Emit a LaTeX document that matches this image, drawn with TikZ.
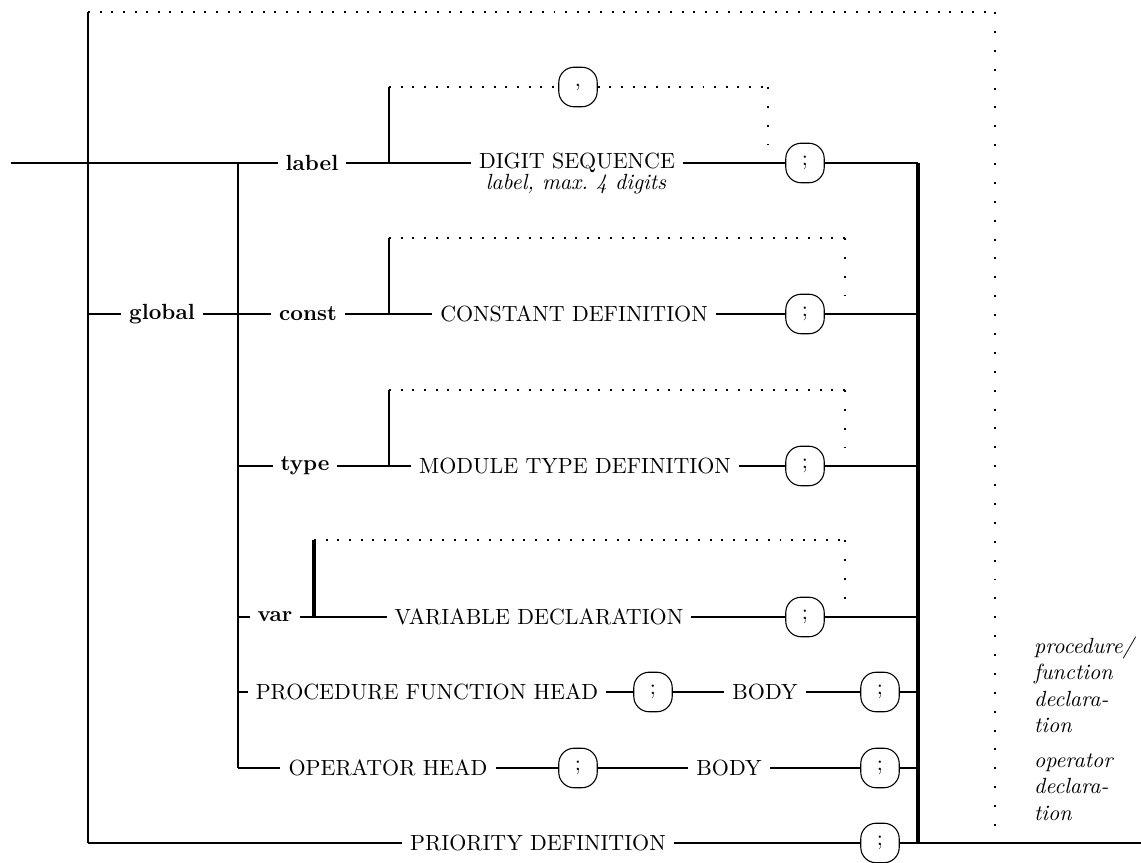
\documentclass[tikz,border=0pt]{standalone}
\usepackage{amsmath,amssymb}
\usepackage{tikz}

\begin{document}
\begin{tikzpicture}[x=0.016cm,y=-0.016cm,
  rail/.style={line width=0.9pt},
  railthin/.style={line width=0.6pt},
  bus/.style={line width=1.4pt},
  hdots/.style={line width=0.9pt,dash pattern=on 0.9pt off 4.4pt},
  vdots/.style={line width=0.9pt,dash pattern=on 0.9pt off 7.7pt},
  term/.style={draw,line width=0.5pt,rounded corners=7pt,minimum width=17.5pt,minimum height=18pt,inner sep=0pt},
  nt/.style={inner sep=3.5pt},
  kw/.style={font=\bfseries,inner sep=3.5pt},
  note/.style={font=\itshape,align=left,anchor=west,inner sep=3pt}]
  \useasboundingbox(0,0)rectangle(1141,863);
  \def\ya{163}\def\yb{314}\def\yc{466}\def\yd{617}\def\ye{692}\def\yf{768}\def\yg{843}
  \coordinate(in)at(11,\ya);
  \coordinate(top)at(88,12);
  \coordinate(topR)at(995,12);
  \coordinate(topE)at(995,826);
  \coordinate(jB)at(238,\ya);
  \coordinate(gA)at(88,\yb);
  \coordinate(tA)at(238,\yc);
  \coordinate(vA)at(238,\yd);
  \coordinate(pA)at(238,\ye);
  \coordinate(oA)at(238,\yf);
  \coordinate(pL)at(88,\yg);
  \coordinate(out)at(1141,\yg);
  \foreach \n/\yy in {1/\ya,2/\yb,3/\yc,4/\yd,5/\ye,6/\yf,7/\yg}
    \coordinate(r\n)at(918,\yy);
  \node[kw](label)at(312,\ya){label};
  \node[nt](digseq)at(577,\ya){DIGIT SEQUENCE};
  \node[font=\itshape,inner sep=0pt](dignote)at(576,184){label, max.\ 4 digits};
  \node[term](comma)at(578,87){,};
  \node[term](semiA)at(805,\ya){;};
  \node[kw](global)at(162,\yb){global};
  \node[kw](const)at(308,\yb){const};
  \node[nt](constdef)at(574,\yb){CONSTANT DEFINITION};
  \node[term](semiB)at(805,\yb){;};
  \node[kw](type)at(305,\yc){type};
  \node[nt](typedef)at(575,\yc){MODULE TYPE DEFINITION};
  \node[term](semiC)at(805,\yc){;};
  \node[kw](var)at(275,\yd){var};
  \node[nt](vardecl)at(539,\yd){VARIABLE DECLARATION};
  \node[term](semiD)at(805,\yd){;};
  \node[nt](prochead)at(427,\ye){PROCEDURE FUNCTION HEAD};
  \node[term](semiE)at(653,\ye){;};
  \node[nt](procbody)at(765,\ye){BODY};
  \node[term](semiF)at(880,\ye){;};
  \node[nt](ophead)at(388,\yf){OPERATOR HEAD};
  \node[term](semiG)at(578,\yf){;};
  \node[nt](opbody)at(729,\yf){BODY};
  \node[term](semiH)at(880,\yf){;};
  \node[nt](prio)at(538,\yg){PRIORITY DEFINITION};
  \node[term](semiI)at(880,\yg){;};
  \node[note](procnote)at(1027,685){procedure/\\function\\declara-\\tion};
  \node[note](opnote)at(1027,787){operator\\declara-\\tion};
  \draw[rail](in)--(label)--(digseq)--(semiA)--(r1);
  \draw[rail](gA)--(global)--(const)--(constdef)--(semiB)--(r2);
  \draw[railthin](tA)--(type)--(typedef)--(semiC)--(r3);
  \draw[railthin](vA)--(var)--(vardecl)--(semiD)--(r4);
  \draw[railthin](pA)--(prochead)--(semiE)--(procbody)--(semiF)--(r5);
  \draw[rail](oA)--(ophead)--(semiG)--(opbody)--(semiH)--(r6);
  \draw[rail](pL)--(prio)--(semiI)--(out);
  \draw[rail](top)--(pL);
  \draw[rail](jB)--(oA);
  \draw[bus](r1)--(r7);
  \draw[hdots](top)--(topR);
  \draw[vdots](topR)--(topE);
  \coordinate(lpA)at(389,\ya);\coordinate(lpAt)at(389,87);
  \coordinate(lpAe)at(768,87);\coordinate(lpAd)at(768,145);
  \draw[rail](lpA)--(lpAt);
  \draw[hdots](lpAt)--(comma)--(lpAe);
  \draw[vdots](lpAe)--(lpAd);
  \foreach \nm/\yy/\yt/\xv/\lw in {B/\yb/238/389/0.9pt,C/\yc/390/389/0.9pt,D/\yd/540/314/1.4pt}{
    \coordinate(lp\nm)at(\xv,\yy);\coordinate(lp\nm t)at(\xv,\yt);
    \coordinate(lp\nm e)at(845,\yt);\coordinate(lp\nm d)at(845,\yy-18);
    \draw[line width=\lw](lp\nm)--(lp\nm t);
    \draw[hdots](lp\nm t)--(lp\nm e);
    \draw[vdots](lp\nm e)--(lp\nm d);
  }
\end{tikzpicture}
\end{document}
